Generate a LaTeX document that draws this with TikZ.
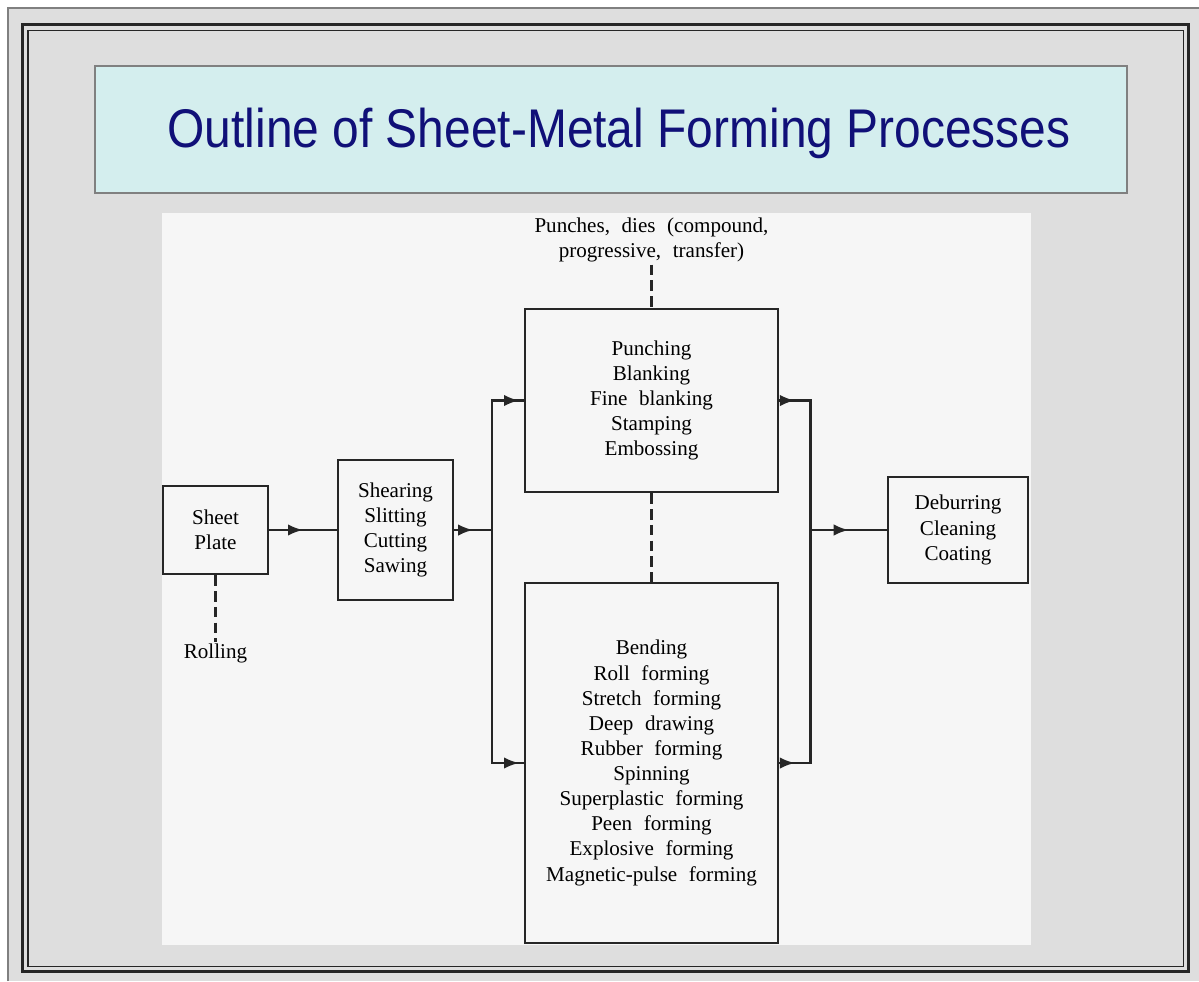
\documentclass[tikz,border=0pt]{standalone}
\usepackage{graphicx}
\usepackage{fontspec}
\setmainfont{Liberation Serif}
\newfontfamily\titlefont{Liberation Sans}
\usetikzlibrary{arrows.meta,decorations.markings}
\definecolor{slidebg}{RGB}{222,222,222}
\definecolor{panelbg}{RGB}{246,246,246}
\definecolor{titlebg}{RGB}{212,238,238}
\definecolor{titleblue}{RGB}{16,16,120}
\definecolor{framegray}{RGB}{128,128,128}

\begin{document}
\begin{tikzpicture}[x=0.02cm,y=-0.02cm,
	procbox/.style={draw=black!85, line width=1.4pt, inner sep=0pt, align=center, font={\fontsize{12}{14.3}\selectfont\spaceskip=0.55em\relax}},
	note/.style={inner sep=1pt, align=center, font={\fontsize{12}{14.3}\selectfont\spaceskip=0.55em\relax}},
	trunk/.style={draw=black!85, line width=1.4pt, line cap=rect},
	flow/.style={trunk, postaction={decorate}, decoration={markings, mark=at position #1 with {\arrow{Latex[length=8.5pt,width=6.5pt]}}}},
	flow/.default=0.5,
	dashline/.style={draw=black!85, line width=1.2pt, dash pattern=on 6pt off 3pt}]
	\useasboundingbox (0,0) rectangle (1199,981);
	\fill[white] (0,0) rectangle (1199,981);
	\fill[slidebg] (8,8) rectangle (1199,981);
	\draw[framegray, line width=1.2pt] (8,981) -- (8,8) -- (1199,8);
	\draw[black!85, line width=1.7pt] (22.5,24.5) rectangle (1188.5,971.5);
	\draw[black!85, line width=1.1pt] (28,30.5) rectangle (1183.5,966.5);
	\draw[framegray, fill=titlebg, line width=0.6pt] (95,66) rectangle (1127,193);
	\node[anchor=base, text=titleblue, inner sep=0pt, font={\titlefont\fontsize{31}{31}\selectfont}] (title) at (619,147) {\scalebox{0.88}[1]{Outline of Sheet-Metal Forming Processes}};
	\fill[panelbg] (162,213) rectangle (1031,945);

	\node[procbox, minimum width=2.1cm, minimum height=1.76cm] (sheet) at (215.5,530) {Sheet\\Plate};
	\node[procbox, minimum width=2.3cm, minimum height=2.8cm] (shear) at (395.5,530) {Shearing\\Slitting\\Cutting\\Sawing};
	\node[procbox, minimum width=5.06cm, minimum height=3.66cm] (punch) at (651.5,400.5) {Punching\\Blanking\\Fine blanking\\Stamping\\Embossing};
	\node[procbox, minimum width=5.06cm, minimum height=7.2cm] (form) at (651.5,763) {Bending\\Roll forming\\Stretch forming\\Deep drawing\\Rubber forming\\Spinning\\Superplastic forming\\Peen forming\\Explosive forming\\Magnetic-pulse forming};
	\node[procbox, minimum width=2.8cm, minimum height=2.12cm] (deburr) at (958,530) {Deburring\\Cleaning\\Coating};
	\node[note, anchor=north] (rolling) at (215.5,642) {Rolling};
	\node[note, anchor=north] (tools) at (651.5,216) {Punches, dies (compound,\\progressive, transfer)};

	\coordinate (split) at (492,530);
	\coordinate (splittop) at (split |- punch.west);
	\coordinate (splitbot) at (split |- form.west);
	\coordinate (join) at (810.5,530);
	\coordinate (jointop) at (join |- punch.east);
	\coordinate (joinbot) at (join |- form.east);

	\draw[flow] (sheet) -- (shear);
	\draw[flow] (shear) -- (split);
	\draw[trunk] (splittop) -- (splitbot);
	\draw[flow=0.85] (splittop) -- (punch);
	\draw[flow=0.85] (splitbot) -- (form);
	\draw[flow] (punch) -- (jointop);
	\draw[flow] (form) -- (joinbot);
	\draw[trunk] (jointop) -- (joinbot);
	\draw[flow] (join) -- (deburr);
	\draw[dashline] (sheet) -- (rolling);
	\draw[dashline] (tools) -- (punch);
	\draw[dashline] (punch) -- (form);
\end{tikzpicture}
\end{document}
